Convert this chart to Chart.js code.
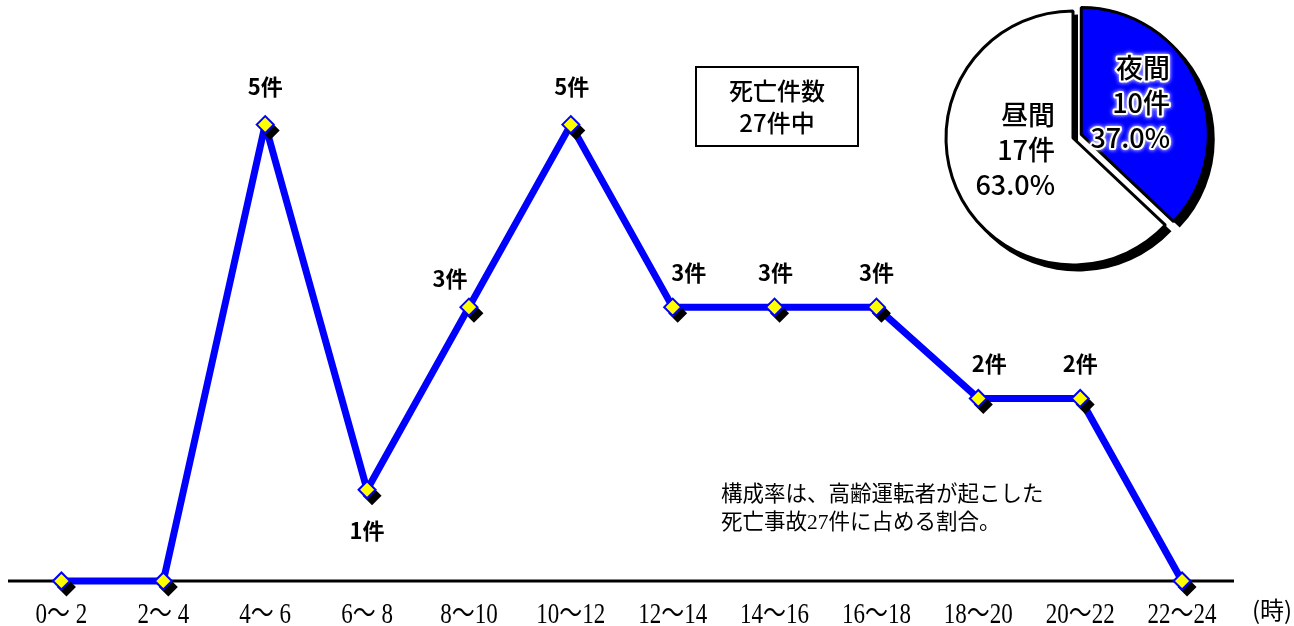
<!DOCTYPE html>
<html lang="ja">
<head>
<meta charset="utf-8">
<script src="https://cdn.jsdelivr.net/npm/chart.js@4.4.0/dist/chart.umd.min.js"></script>
<style>
  html, body { margin: 0; padding: 0; background: #fff; overflow: hidden; }
  #wrap { position: relative; width: 1294px; height: 626px; overflow: hidden; }
  #lineChart { position: absolute; left: 0; top: 0; }
  #pieChart { position: absolute; left: 928px; top: -7px; }
</style>
</head>
<body>
<div id="wrap">
  <canvas id="lineChart" width="1294" height="626"></canvas>
  <canvas id="pieChart" width="290" height="290"></canvas>
</div>
<script>
// time bands (hours) and number of fatal accidents in each
const categories = ['0～ 2', '2～ 4', '4～ 6', '6～ 8', '8～10', '10～12',
                    '12～14', '14～16', '16～18', '18～20', '20～22', '22～24'];
const deaths = [0, 0, 5, 1, 3, 5, 3, 3, 3, 2, 2, 0];

// day / night split
const pieLabels = ['夜間', '昼間'];
const pieValues = [10, 17];
const piePercent = ['37.0%', '63.0%'];
const totalDeaths = 27;

const SANS = '"Noto Sans CJK JP", "Noto Sans", sans-serif';
const SERIF = '"Liberation Serif", "Noto Sans CJK JP", serif';

// small nudges for the value labels (dx, dy from the point)
const labelNudge = {
    2: [0, -38], 3: [0, 41], 4: [-19, -29], 5: [1, -38], 6: [16, -35],
    7: [1, -35], 8: [0, -35], 9: [11, -35], 10: [0, -35]
};

const lineDecor = {
    id: 'lineDecor',
    beforeDatasetsDraw(chart) {
        const ctx = chart.ctx;
        const y0 = chart.scales.y.getPixelForValue(0);
        // base axis line
        ctx.save();
        ctx.strokeStyle = '#000';
        ctx.lineWidth = 3;
        ctx.beginPath();
        ctx.moveTo(8, y0);
        ctx.lineTo(1234, y0);
        ctx.stroke();
        ctx.restore();
    },
    beforeDatasetDraw(chart, args) {
        if (args.index !== 1) return;
        // black drop shadows under the diamond markers
        const ctx = chart.ctx;
        const r = 9.5;
        ctx.save();
        ctx.fillStyle = '#000';
        args.meta.data.forEach(pt => {
            const x = pt.x + 5, y = pt.y + 6;
            ctx.beginPath();
            ctx.moveTo(x, y - r);
            ctx.lineTo(x + r, y);
            ctx.lineTo(x, y + r);
            ctx.lineTo(x - r, y);
            ctx.closePath();
            ctx.fill();
        });
        ctx.restore();
    },
    afterDraw(chart) {
        const ctx = chart.ctx;
        const xs = chart.scales.x;
        const meta = chart.getDatasetMeta(1);
        ctx.save();

        // category labels (tall mincho-like look)
        ctx.fillStyle = '#000';
        ctx.textAlign = 'center';
        ctx.textBaseline = 'middle';
        ctx.font = '23px ' + SERIF;
        categories.forEach((c, i) => {
            ctx.save();
            ctx.translate(xs.getPixelForValue(i), 615);
            ctx.scale(1, 1.25);
            ctx.fillText(c, 0, 0);
            ctx.restore();
        });
        ctx.font = '24px ' + SANS;
        ctx.fillText('(時)', 1272, 610);

        // value labels
        ctx.font = 'bold 22px ' + SANS;
        meta.data.forEach((pt, i) => {
            if (!deaths[i]) return;
            const n = labelNudge[i] || [0, -35];
            ctx.fillText(deaths[i] + '件', pt.x + n[0], pt.y + n[1]);
        });

        // title box
        ctx.lineWidth = 2;
        ctx.strokeStyle = '#000';
        ctx.strokeRect(696, 67, 162, 79);
        ctx.font = '500 24px ' + SANS;
        ctx.fillText('死亡件数', 777, 91);
        ctx.fillText(totalDeaths + '件中', 777, 123);

        // note
        ctx.textAlign = 'left';
        ctx.font = '21.5px ' + SERIF;
        ctx.fillText('構成率は、高齢運転者が起こした', 721, 495);
        ctx.fillText('死亡事故' + totalDeaths + '件に占める割合。', 721, 523);
        ctx.restore();
    }
};

new Chart(document.getElementById('lineChart'), {
    type: 'line',
    data: {
        labels: categories,
        datasets: [{
            data: deaths,
            borderColor: '#0000FF',
            borderWidth: 7,
            borderJoinStyle: 'round',
            pointRadius: 0,
            pointHoverRadius: 0,
            tension: 0,
            fill: false,
            clip: false,
            order: 2
        }, {
            data: deaths,
            showLine: false,
            pointStyle: 'rectRot',
            pointRadius: 8.5,
            pointHoverRadius: 8.5,
            pointBackgroundColor: '#FFFF00',
            pointBorderColor: '#0000FF',
            pointBorderWidth: 2,
            pointHoverBorderWidth: 2,
            clip: false,
            order: 1
        }]
    },
    options: {
        responsive: false,
        animation: false,
        events: [],
        layout: { padding: { left: 9, right: 61, top: 6, bottom: 45 } },
        plugins: { legend: { display: false }, tooltip: { enabled: false } },
        scales: {
            x: { display: false, offset: true },
            y: { display: false, min: 0, max: 6.25 }
        }
    },
    plugins: [lineDecor]
});

// the night slice is pulled out of the pie by this many pixels
const EXPLODE = 9;

function sliceShift(arc, i) {
    if (i !== 0) return [0, 0];
    const mid = (arc.startAngle + arc.endAngle) / 2;
    return [Math.cos(mid) * EXPLODE, Math.sin(mid) * EXPLODE];
}

const pieDecor = {
    id: 'pieDecor',
    beforeDatasetsDraw(chart) {
        const ctx = chart.ctx;
        const arcs = chart.getDatasetMeta(0).data;
        // shift the exploded slice when the library draws it
        arcs.forEach((arc, i) => {
            if (arc._patched) return;
            const orig = arc.draw;
            arc.draw = function (c) {
                const s = sliceShift(this, i);
                c.save();
                c.translate(s[0], s[1]);
                orig.call(this, c);
                c.restore();
            };
            arc._patched = true;
        });
        // flat black drop shadow behind the slices
        ctx.save();
        ctx.fillStyle = '#000';
        arcs.forEach((arc, i) => {
            const s = sliceShift(arc, i);
            const x = arc.x + s[0] + 5, y = arc.y + s[1] + 5;
            ctx.beginPath();
            ctx.moveTo(x, y);
            ctx.arc(x, y, arc.outerRadius + 1.5, arc.startAngle, arc.endAngle);
            ctx.closePath();
            ctx.fill();
        });
        ctx.restore();
    },
    afterDraw(chart) {
        const ctx = chart.ctx;
        const arc = chart.getDatasetMeta(0).data[0];
        const cx = arc.x, cy = arc.y;
        ctx.save();
        ctx.textAlign = 'right';
        ctx.textBaseline = 'middle';
        ctx.font = '500 27px ' + SANS;
        ctx.lineJoin = 'round';

        // night slice (with white halo)
        const night = [pieLabels[0], pieValues[0] + '件', piePercent[0]];
        night.forEach((t, i) => {
            const y = cy - 70 + i * 35;
            ctx.save();
            ctx.shadowColor = '#fff';
            ctx.shadowBlur = 4;
            ctx.strokeStyle = '#fff';
            ctx.lineWidth = 4;
            ctx.strokeText(t, cx + 97, y);
            ctx.restore();
            ctx.fillStyle = '#000';
            ctx.fillText(t, cx + 97, y);
        });

        // day slice
        const day = [pieLabels[1], pieValues[1] + '件', piePercent[1]];
        ctx.fillStyle = '#000';
        day.forEach((t, i) => {
            ctx.fillText(t, cx - 18, cy - 23 + i * 35);
        });
        ctx.restore();
    }
};

new Chart(document.getElementById('pieChart'), {
    type: 'pie',
    data: {
        labels: pieLabels,
        datasets: [{
            data: pieValues,
            backgroundColor: ['#0000FF', '#FFFFFF'],
            borderColor: '#000',
            borderWidth: 3,
            hoverOffset: 0
        }]
    },
    options: {
        responsive: false,
        animation: false,
        events: [],
        layout: { padding: 16.5 },
        plugins: { legend: { display: false }, tooltip: { enabled: false } }
    },
    plugins: [pieDecor]
});
</script>
</body>
</html>
